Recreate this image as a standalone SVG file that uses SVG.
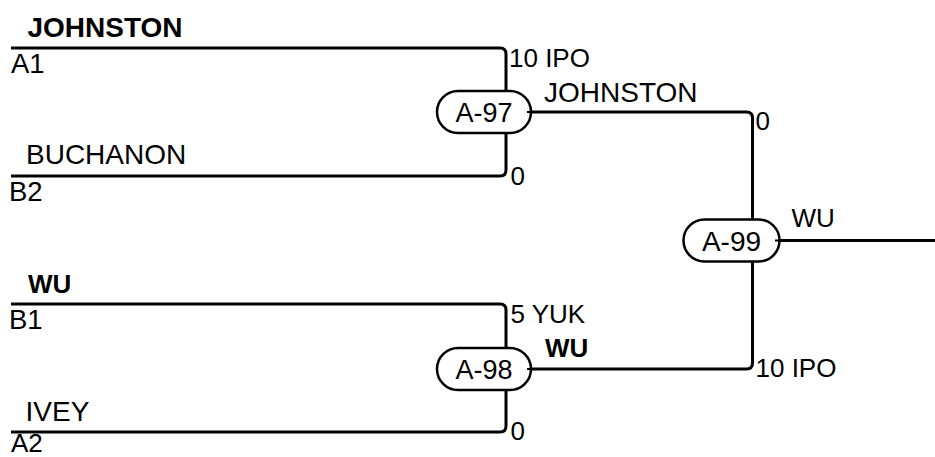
<svg xmlns="http://www.w3.org/2000/svg" width="935" height="457" viewBox="0 0 935 457">
<style>
  text { font-family: "Liberation Sans", Arial, sans-serif; fill: #000; }
  .name { font-size: 28px; }
  .bold { font-weight: bold; }
  .slot { font-size: 27.5px; }
  .score { font-size: 26px; }
  .nlab { font-size: 27px; text-anchor: middle; }
  .wire { fill: none; stroke: #000; stroke-width: 3; }
  .pill { fill: #fff; stroke: #000; stroke-width: 2.5; }
</style>
<rect width="935" height="457" fill="#fff"/>
<g id="connectors">
  <path class="wire" d="M11,48 H500 Q506,48 506,54 V91"/>
  <path class="wire" d="M11,176 H500 Q506,176 506,170 V133"/>
  <path class="wire" d="M11,304 H500 Q506,304 506,310 V348"/>
  <path class="wire" d="M11,432 H500 Q506,432 506,426 V390"/>
  <path class="wire" d="M527,112 H746.5 Q752.5,112 752.5,118 V220"/>
  <path class="wire" d="M527,369 H746.5 Q752.5,369 752.5,363 V261"/>
  <path class="wire" d="M775,240.5 H935"/>
</g>
<g id="entrants">
  <text class="name bold" x="27.5" y="36.5">JOHNSTON</text>
  <text class="slot" x="11" y="73">A1</text>
  <text class="name" x="26" y="164">BUCHANON</text>
  <text class="slot" x="9" y="201">B2</text>
  <text class="slot bold" x="28" y="293" style="font-size:26px">WU</text>
  <text class="slot" x="9" y="328.5">B1</text>
  <text class="name" x="25.5" y="421">IVEY</text>
  <text class="slot" x="11" y="451.5" style="font-size:26px">A2</text>
</g>
<g id="node-A-97">
  <rect class="pill" x="437" y="91" width="94" height="42" rx="21" ry="21"/>
  <line x1="527" y1="112" x2="533" y2="112" stroke="#000" stroke-width="2"/>
  <text class="nlab" x="484" y="121.5">A-97</text>
  <text class="score" x="509" y="67.3">10 IPO</text>
  <text class="score" x="510.5" y="185">0</text>
  <text class="name" x="544" y="101.7">JOHNSTON</text>
</g>
<g id="node-A-98">
  <rect class="pill" x="437" y="348" width="94" height="42" rx="21" ry="21"/>
  <line x1="527" y1="369" x2="533" y2="369" stroke="#000" stroke-width="2"/>
  <text class="nlab" x="484" y="378.5">A-98</text>
  <text class="score" x="510.5" y="323.3">5 YUK</text>
  <text class="score" x="510.5" y="440">0</text>
  <text class="score bold" x="545" y="356.7">WU</text>
</g>
<g id="node-A-99">
  <rect class="pill" x="683.5" y="219.5" width="96" height="42" rx="21" ry="21"/>
  <line x1="775" y1="240.5" x2="781" y2="240.5" stroke="#000" stroke-width="2"/>
  <text class="nlab" x="731.5" y="251" style="font-size:28px">A-99</text>
  <text class="score" x="755.5" y="130">0</text>
  <text class="score" x="755.5" y="376.7">10 IPO</text>
  <text class="score" x="791.5" y="226.7">WU</text>
</g>
</svg>
